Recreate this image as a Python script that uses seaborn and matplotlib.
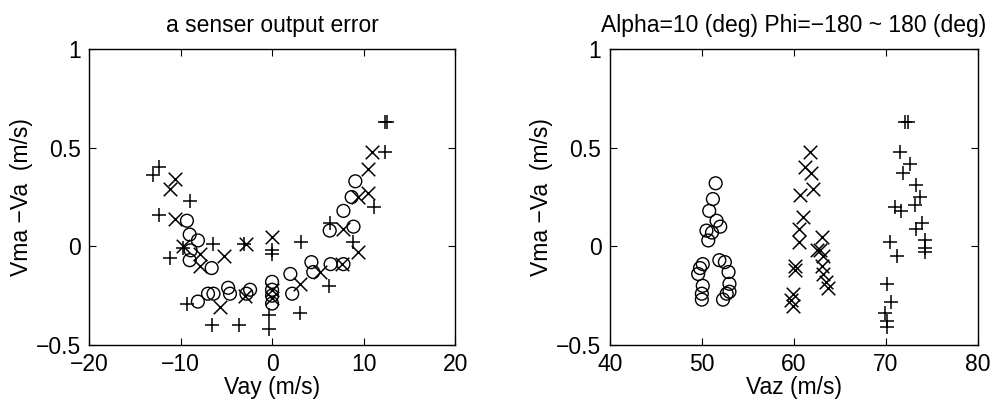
import matplotlib
matplotlib.use("Agg")
import matplotlib.pyplot as plt
import seaborn as sns
import pandas as pd

# Sensor output error Vma - Va (m/s) against lateral / vertical airspeed
# Left panel: error vs Vay, three sensor groups (o, x, +)
vay_o = [-9.3, -9.0, -8.1, -8.9, -9.0, -6.6, -8.1, -7.0, -6.4, -4.8, -4.6, -2.4, -2.8,
         0.0, 0.0, 0.0, 0.0, 2.0, 2.2, 4.3, 4.5, 6.4, 7.8, 6.3, 8.9, 7.8, 8.7, 9.1]
err_o = [0.13, 0.06, 0.03, -0.02, -0.07, -0.11, -0.28, -0.24, -0.24, -0.21, -0.24, -0.22, -0.24,
         -0.18, -0.22, -0.25, -0.29, -0.14, -0.24, -0.08, -0.13, -0.09, -0.09, 0.08, 0.10, 0.18, 0.25, 0.33]

vay_x = [-10.6, -11.1, -10.6, -9.7, -7.9, -5.3, -2.8, 0.0, -7.9, -5.7, -3.0, 0.0, 0.0,
         10.9, 10.5, 10.5, 9.4, 7.8, 9.4, 5.2, 3.0, 7.6]
err_x = [0.34, 0.29, 0.14, 0.00, -0.04, -0.05, 0.01, 0.05, -0.10, -0.31, -0.25, -0.22, -0.26,
         0.48, 0.39, 0.27, 0.25, 0.09, -0.03, -0.13, -0.19, -0.09]

vay_p = [-12.3, -13.0, -9.0, -12.4, -11.2, -9.7, -6.4, -3.1, 0.0, 0.0, -9.3, -6.6, -3.6,
         -0.3, -0.3, 12.3, 12.6, 12.3, 11.1, 6.3, 8.8, 3.2, 6.2, 3.0]
err_p = [0.40, 0.36, 0.23, 0.16, -0.06, -0.01, 0.01, 0.01, -0.02, -0.04, -0.29, -0.40, -0.40,
         -0.35, -0.42, 0.63, 0.63, 0.48, 0.20, 0.12, 0.02, 0.02, -0.20, -0.34]

# Right panel: error vs Vaz at Alpha = 10 deg
vaz_o = [51.5, 51.2, 50.8, 51.6, 52.0, 50.5, 51.1, 50.7, 50.1, 49.8, 49.6, 50.1, 50.0, 50.0,
         51.9, 52.5, 52.9, 53.0, 53.0, 52.7, 52.3]
err_o2 = [0.32, 0.24, 0.18, 0.13, 0.10, 0.08, 0.07, 0.03, -0.09, -0.11, -0.14, -0.20, -0.24, -0.27,
          -0.07, -0.08, -0.13, -0.19, -0.23, -0.24, -0.27]

vaz_x = [61.7, 61.2, 61.9, 62.1, 60.7, 61.0, 60.5, 60.5, 60.1, 60.1, 59.9, 59.7, 59.9,
         63.0, 62.5, 62.8, 63.2, 63.0, 63.2, 63.5, 63.7]
err_x2 = [0.48, 0.40, 0.37, 0.29, 0.26, 0.15, 0.09, 0.02, -0.10, -0.12, -0.24, -0.27, -0.30,
          0.05, -0.02, -0.02, -0.05, -0.10, -0.14, -0.18, -0.21]

vaz_p = [72.1, 72.4, 71.5, 72.6, 71.9, 73.3, 73.7, 73.2, 71.0, 71.6, 73.9, 73.3, 70.4, 71.2,
         74.2, 74.2, 74.2, 70.1, 70.6, 69.9, 70.1, 70.1]
err_p2 = [0.63, 0.63, 0.48, 0.42, 0.37, 0.31, 0.25, 0.21, 0.20, 0.18, 0.12, 0.09, 0.02, -0.05,
          0.03, -0.01, -0.03, -0.19, -0.28, -0.34, -0.38, -0.41]

left_xticks = [-20, -10, 0, 10, 20]
right_xticks = [40, 50, 60, 70, 80]
yticks = [-0.5, 0, 0.5, 1]

sns.set_theme(style="white")
plt.rcParams["font.family"] = ["Liberation Sans", "DejaVu Sans"]
plt.rcParams["axes.unicode_minus"] = True
plt.rcParams["text.color"] = "black"
plt.rcParams["axes.labelcolor"] = "black"

fig = plt.figure(figsize=(9.98, 4.03), dpi=100)
ax1 = fig.add_axes([0.0892, 0.144, 0.3668, 0.734])
ax2 = fig.add_axes([0.611, 0.144, 0.369, 0.734])

FS = 16.5


def draw(ax, xo, yo, xx, yx, xp, yp):
    sns.scatterplot(data=pd.DataFrame({"x": xo, "y": yo}), x="x", y="y", ax=ax,
                    marker="o", s=85, facecolor="none", edgecolor="black", linewidth=1.0)
    sns.scatterplot(data=pd.DataFrame({"x": xx, "y": yx}), x="x", y="y", ax=ax,
                    marker="x", s=95, color="black", linewidth=1.1)
    sns.scatterplot(data=pd.DataFrame({"x": xp, "y": yp}), x="x", y="y", ax=ax,
                    marker="+", s=95, color="black", linewidth=1.1)


def style(ax, xticks, xlabel, title):
    ax.set_xlim(xticks[0], xticks[-1])
    ax.set_ylim(-0.5, 1)
    ax.set_xticks(xticks)
    ax.set_yticks(yticks)
    ax.set_xticklabels([str(t).replace("-", "\u2212") for t in xticks])
    ax.set_yticklabels(["\u22120.5", "0", "0.5", "1"])
    ax.tick_params(direction="in", length=5, width=0.8, top=True, right=True,
                   bottom=True, left=True, labelsize=FS, colors="black")
    ax.tick_params(axis="x", pad=6)
    ax.tick_params(axis="y", pad=6)
    for sp in ax.spines.values():
        sp.set_color("black")
        sp.set_linewidth(1.0)
    ax.set_xlabel(xlabel, fontsize=FS, labelpad=0, color="black")
    ax.set_ylabel("Vma \u2212Va  (m/s)", fontsize=FS, labelpad=2, color="black")
    ax.set_title(title, fontsize=FS, pad=12, color="black")


draw(ax1, vay_o, err_o, vay_x, err_x, vay_p, err_p)
style(ax1, left_xticks, "Vay (m/s)", "a senser output error")

draw(ax2, vaz_o, err_o2, vaz_x, err_x2, vaz_p, err_p2)
style(ax2, right_xticks, "Vaz (m/s)", "Alpha=10 (deg) Phi=\u2212180 ~ 180 (deg)")

fig.savefig("out.png", dpi=100, facecolor="white")
